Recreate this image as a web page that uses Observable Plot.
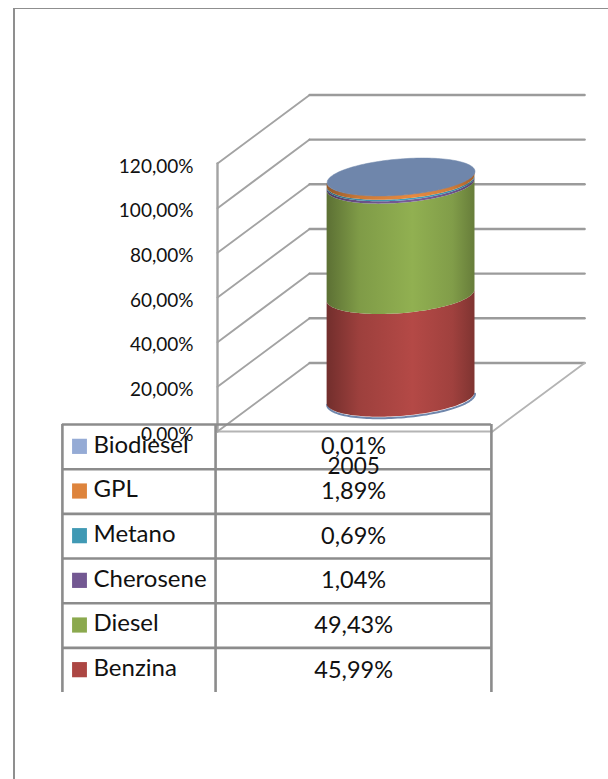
<!DOCTYPE html>
<html>
<head>
<meta charset="utf-8">
<script src="https://cdn.jsdelivr.net/npm/d3@7"></script>
<script src="https://cdn.jsdelivr.net/npm/@observablehq/plot@0.6"></script>
<style>
  html, body { margin: 0; background: #fff; }
  #sheet { position: relative; width: 608px; height: 779px; overflow: hidden; }
  #sheet::before {
    content: ""; position: absolute; left: 13px; top: 8px; right: -4px; bottom: -4px;
    border-left: 2.5px solid #8f8f8f; border-top: 1.5px solid #8f8f8f;
  }
  #sheet svg { position: absolute; left: 0; top: 0; }
</style>
</head>
<body>
<div id="sheet"></div>
<script>
// Fuel shares for 2005, stacked bottom to top
const years = ["2005"];
const fuels = ["Benzina", "Diesel", "Cherosene", "Metano", "GPL", "Biodiesel"];
const shares = [45.99, 49.43, 1.04, 0.69, 1.89, 0.01];
const shareLabels = ["45,99%", "49,43%", "1,04%", "0,69%", "1,89%", "0,01%"];
const legendColors = ["#ac4643", "#8ba94e", "#735892", "#4099b4", "#de843c", "#95abd5"];
const capColor = "#6f86ab";
const yTicks = [0, 20, 40, 60, 80, 100, 120];

// Oblique projection: depth 0..1 shifts a point right and up
const depthX = 0.335;
const depthY = 30.7;
const project = (x, depth, v) => ({x: x + depth * depthX, y: v + depth * depthY});

// Walls and floor of the 3D frame
const wallSegments = yTicks.flatMap((v) => [
  {id: `wall${v}`, ...project(0, 0, v)},
  {id: `wall${v}`, ...project(0, 1, v)}
]);
const backSegments = yTicks.flatMap((v) => [
  {id: `back${v}`, ...project(0, 1, v)},
  {id: `back${v}`, ...project(1, 1, v)}
]);
const floorEdges = [
  {id: "side", ...project(1, 1, 0)},
  {id: "side", ...project(1, 0, 0)},
  {id: "front", ...project(1, 0, 0)},
  {id: "front", ...project(0, 0, 0)}
];
const sideAxis = [project(0, 0, 0), project(0, 0, 120)];

// Each cross-section of the cylinder is a sheared ellipse around its stack height
const cylinder = {x: 0.505, depth: 0.485, rx: 0.257, shear: 0.079, rise: 8.5};
const ringPoint = (t, v) => {
  const c = project(cylinder.x, cylinder.depth, v);
  return {
    x: c.x + cylinder.rx * Math.cos(t) + cylinder.shear * Math.sin(t),
    y: c.y + cylinder.rise * Math.sin(t)
  };
};
const silhouetteAngle = Math.atan2(cylinder.shear, cylinder.rx);
const angles = d3.range(0, 73).map((i) => silhouetteAngle + Math.PI + (i / 72) * Math.PI);
const fullAngles = d3.range(0, 145).map((i) => (i / 144) * 2 * Math.PI);
const tops = Array.from(d3.cumsum(shares));
const segments = shares.flatMap((_, i) => {
  const bottom = i === 0 ? 0 : tops[i - 1];
  return angles.map((t) => {
    const a = ringPoint(t, bottom);
    const b = ringPoint(t, tops[i]);
    return {fuel: fuels[i], x: a.x, y1: a.y, y2: b.y};
  });
});
const baseRim = angles.map((t) => ringPoint(t, 0));
const cap = fullAngles.map((t) => ringPoint(t, tops[tops.length - 1]));

// Side-to-side shading of the cylinder body
function shading() {
  const ns = "http://www.w3.org/2000/svg";
  const defs = document.createElementNS(ns, "defs");
  fuels.forEach((fuel, i) => {
    const g = document.createElementNS(ns, "linearGradient");
    g.setAttribute("id", `shade-${fuel}`);
    const base = d3.color(legendColors[i]);
    [[0, base.darker(1.15)], [0.22, base.darker(0.25)], [0.58, base.brighter(0.12)], [0.85, base.darker(0.2)], [1, base.darker(0.85)]]
      .forEach(([offset, color]) => {
        const s = document.createElementNS(ns, "stop");
        s.setAttribute("offset", offset);
        s.setAttribute("stop-color", color.formatHex());
        g.appendChild(s);
      });
    defs.appendChild(g);
  });
  return defs;
}

// Data table under the chart, laid out in the same units as the axes
const tableTop = 3.13;
const rowStep = 20;
const tableColumns = [-0.564, -0.007, 0.996];
const rowEdges = d3.range(0, 6).map((i) => tableTop - i * rowStep);
const tableBottom = tableTop - 6 * rowStep;
const rows = fuels.map((fuel, i) => ({fuel, label: shareLabels[i], color: legendColors[i]})).reverse()
  .map((r, i) => ({...r, mid: tableTop - (i + 0.5) * rowStep}));

const grey = "#a3a3a3";
const tableGrey = "#8c8c8c";
const textColor = "#111";
const fontFamily = "Lato, sans-serif";

const plot = Plot.plot({
  width: 608,
  height: 779,
  marginLeft: 215,
  marginTop: 0,
  marginRight: 0,
  marginBottom: 0,
  x: {domain: [0, 1], range: [217, 492], axis: null},
  y: {domain: [0, 120], range: [431, 163], axis: null},
  style: {background: "transparent", fontFamily, fontSize: "19px", color: textColor},
  marks: [
    shading,
    Plot.line(wallSegments, {x: "x", y: "y", z: "id", stroke: grey, strokeWidth: 1.9}),
    Plot.line(backSegments, {x: "x", y: "y", z: "id", stroke: "#9b9b9b", strokeWidth: 2.4}),
    Plot.line(floorEdges, {x: "x", y: "y", z: "id", stroke: "#b4b4b4", strokeWidth: 1.8}),
    Plot.line(sideAxis, {x: "x", y: "y", stroke: grey, strokeWidth: 2.4}),
    Plot.axisY(yTicks, {
      anchor: "left",
      tickSize: 0,
      tickPadding: 22,
      label: null,
      fontSize: 19,
      dy: 3,
      tickFormat: (d) => d.toFixed(2).replace(".", ",") + "%"
    }),
    // Cylinder
    Plot.line(baseRim, {x: "x", y: "y", stroke: capColor, strokeWidth: 2, dy: 1}),
    ...fuels.map((fuel) =>
      Plot.areaY(segments.filter((d) => d.fuel === fuel), {
        x: "x", y1: "y1", y2: "y2", fill: `url(#shade-${fuel})`
      })
    ),
    Plot.line(cap, {x: "x", y: "y", fill: capColor, stroke: capColor, strokeWidth: 0.5}),
    // Table
    Plot.ruleY(rowEdges, {y: (d) => d, x1: tableColumns[0], x2: tableColumns[2], stroke: tableGrey, strokeWidth: 2.6}),
    Plot.ruleX(tableColumns, {x: (d) => d, y1: tableTop, y2: tableBottom, stroke: tableGrey, strokeWidth: 2.6}),
    Plot.rect(rows, {
      x1: -0.527, x2: -0.473,
      y1: (d) => d.mid + 3.4, y2: (d) => d.mid - 3.4,
      fill: "color"
    }),
    Plot.text(rows, {x: -0.451, y: "mid", text: "fuel", textAnchor: "start", fontSize: 24, fontFamily, dy: -2, fill: textColor}),
    Plot.text(rows, {x: 0.495, y: "mid", text: "label", fontSize: 23.5, fontFamily, dy: 0, fill: textColor}),
    Plot.text(years, {x: 0.495, y: tableTop - rowStep, text: (d) => d, fontSize: 22.5, fontFamily, dy: -2, fill: textColor})
  ]
});
document.getElementById("sheet").appendChild(plot);
</script>
</body>
</html>
